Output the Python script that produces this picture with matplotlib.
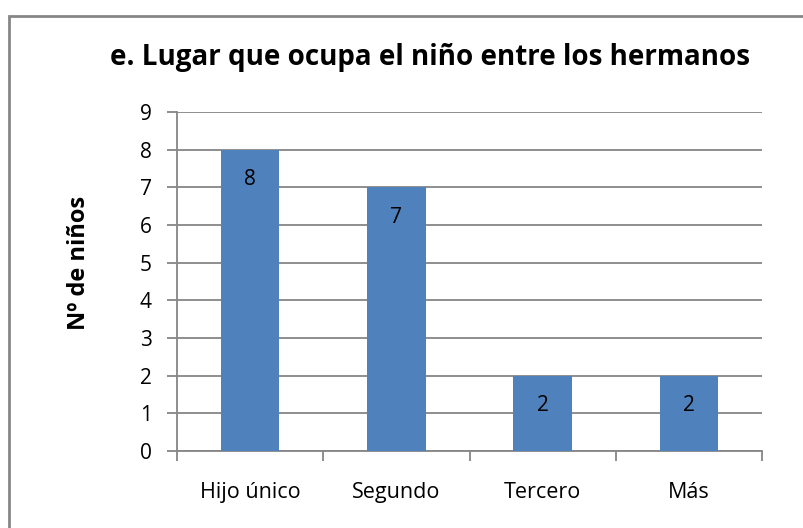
import numpy as np
import matplotlib.pyplot as plt
from matplotlib.patches import Rectangle

categorias = ['Hijo único', 'Segundo', 'Tercero', 'Más']
ninos = [8, 7, 2, 2]
yticks = list(range(0, 10))

azul = '#4F81BD'
gris = '#868686'

plt.rcParams['font.family'] = ['Open Sans', 'DejaVu Sans']

fig = plt.figure(figsize=(8.04, 5.28), dpi=100)
ax = fig.add_axes([177/804, 1-451/528, 585/804, 339/528])

x = np.arange(len(categorias))
bars = ax.bar(x, ninos, width=0.4, color=azul, zorder=3)

for b, v in zip(bars, ninos):
    ax.text(b.get_x() + b.get_width()/2, v - 0.8, str(v),
            ha='center', va='center', fontsize=15, zorder=4)

ax.set_xlim(-0.5, len(categorias) - 0.5)
ax.set_ylim(0, 9)
ax.set_yticks(yticks)
ax.yaxis.grid(True, color=gris, linewidth=1.3, zorder=0)

# category boundaries as major ticks, labels on minor ticks
ax.set_xticks(np.arange(-0.5, len(categorias)), labels=[''] * (len(categorias) + 1))
ax.set_xticks(x, labels=categorias, minor=True)
ax.tick_params(axis='x', which='major', length=7, width=1.3, color=gris, direction='out')
ax.tick_params(axis='x', which='minor', length=0, pad=22, labelsize=15.5)
ax.tick_params(axis='y', length=7, width=1.3, color=gris, pad=11, labelsize=15)

for s in ['top', 'right']:
    ax.spines[s].set_visible(False)
for s in ['left', 'bottom']:
    ax.spines[s].set_color(gris)
    ax.spines[s].set_linewidth(1.3)

fig.text(79/804, 1-263/528, 'Nº de niños', rotation=90,
         ha='center', va='center', fontsize=17, fontweight='bold')

fig.text(430/804, 1-57/528, 'e. Lugar que ocupa el niño entre los hermanos',
         ha='center', va='center', fontsize=20, fontweight='bold')

# chart border (only left/top visible in the reference)
fig.patches.append(Rectangle((9/804, -0.1), 1.2, 1-16/528+0.1, transform=fig.transFigure,
                             fill=False, edgecolor=gris, linewidth=2))

fig.savefig('out.png', dpi=100)
